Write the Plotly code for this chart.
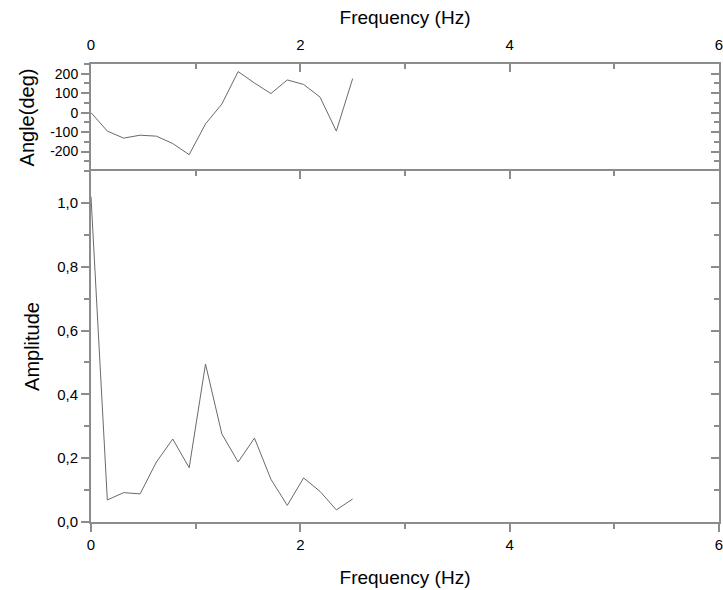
import plotly.graph_objects as go

# FFT result: frequency bins (Hz), amplitude and phase angle (deg)
freq = [0.0, 0.156, 0.312, 0.469, 0.625, 0.781, 0.938, 1.094, 1.25,
        1.406, 1.562, 1.719, 1.875, 2.031, 2.188, 2.344, 2.5]
amplitude = [1.02, 0.069, 0.092, 0.088, 0.188, 0.26, 0.17, 0.495, 0.276,
             0.188, 0.263, 0.134, 0.052, 0.138, 0.096, 0.038, 0.072]
angle = [0, -95, -131, -116, -121, -159, -216, -58, 44,
         211, 152, 98, 168, 145, 80, -95, 175]

angle_tick_vals = [-200, -100, 0, 100, 200]
angle_tick_text = ["-200", "-100", "0", "100", "200"]

FONT = "Liberation Sans, Arial, sans-serif"
AXIS_COLOR = "#8c8c8c"
LINE_COLOR = "#6a6a6a"
SPLIT = 0.7664

fig = go.Figure()
fig.add_trace(go.Scatter(x=freq, y=amplitude, mode="lines",
                         line=dict(color=LINE_COLOR, width=1),
                         xaxis="x", yaxis="y", showlegend=False))
fig.add_trace(go.Scatter(x=freq, y=angle, mode="lines",
                         line=dict(color=LINE_COLOR, width=1),
                         xaxis="x2", yaxis="y2", showlegend=False))
# empty traces so the mirror axes (inside ticks) get drawn
fig.add_trace(go.Scatter(x=[], y=[], xaxis="x3", yaxis="y3", showlegend=False))
fig.add_trace(go.Scatter(x=[], y=[], xaxis="x2", yaxis="y4", showlegend=False))

common = dict(showline=True, linecolor=AXIS_COLOR, linewidth=2,
              tickcolor=AXIS_COLOR, tickwidth=2, showgrid=False, zeroline=False,
              ticklabeloverflow="allow", automargin=False,
              tickfont=dict(family=FONT, size=15, color="#000"))

fig.update_layout(
    width=723, height=590,
    margin=dict(l=91, r=4, t=64, b=68, autoexpand=False),
    paper_bgcolor="white", plot_bgcolor="white",
    separators=", ",
    font=dict(family=FONT, color="#000"),
    xaxis=dict(**common, domain=[0, 1], anchor="y", range=[0, 6],
               dtick=2, tick0=0, ticks="outside", ticklen=8,
               minor=dict(dtick=1, tick0=0, ticks="outside", ticklen=5,
                          tickcolor=AXIS_COLOR, tickwidth=2),
               title=dict(text="Frequency (Hz)", font=dict(family=FONT, size=19),
                          standoff=19)),
    xaxis3=dict(**common, overlaying="x", side="top", anchor="y", range=[0, 6],
                dtick=2, tick0=0, ticks="inside", ticklen=8,
                showticklabels=False,
                minor=dict(dtick=1, tick0=0, ticks="inside", ticklen=5,
                           tickcolor=AXIS_COLOR, tickwidth=2)),
    yaxis=dict(**common, domain=[0, SPLIT], anchor="x", range=[0, 1.1],
               dtick=0.2, tick0=0, tickformat=".1f", ticks="outside", ticklen=8,
               minor=dict(dtick=0.1, tick0=0, ticks="outside", ticklen=5,
                          tickcolor=AXIS_COLOR, tickwidth=2),
               title=dict(text="Amplitude", font=dict(family=FONT, size=20),
                          standoff=12)),
    yaxis3=dict(**common, overlaying="y", side="right", anchor="x", range=[0, 1.1],
                dtick=0.2, tick0=0, ticks="inside", ticklen=8,
                showticklabels=False,
                minor=dict(dtick=0.1, tick0=0, ticks="inside", ticklen=5,
                           tickcolor=AXIS_COLOR, tickwidth=2)),
    xaxis2=dict(**common, domain=[0, 1], anchor="y2", side="top", range=[0, 6],
                dtick=2, tick0=0, ticks="inside", ticklen=8,
                ticklabelstandoff=6,
                minor=dict(dtick=1, tick0=0, ticks="inside", ticklen=5,
                           tickcolor=AXIS_COLOR, tickwidth=2),
                title=dict(text="Frequency (Hz)", font=dict(family=FONT, size=19),
                           standoff=6)),
    yaxis2=dict(**common, domain=[SPLIT, 1], anchor="x2", range=[-300, 250],
                tickvals=angle_tick_vals, ticktext=angle_tick_text,
                ticks="outside", ticklen=8,
                minor=dict(dtick=50, tick0=0, ticks="outside", ticklen=5,
                           tickcolor=AXIS_COLOR, tickwidth=2),
                title=dict(text="Angle(deg)", font=dict(family=FONT, size=20),
                           standoff=10)),
    yaxis4=dict(**common, overlaying="y2", side="right", anchor="x2",
                range=[-300, 250], tickvals=angle_tick_vals,
                ticks="inside", ticklen=8, showticklabels=False,
                minor=dict(dtick=50, tick0=0, ticks="inside", ticklen=5,
                           tickcolor=AXIS_COLOR, tickwidth=2)),
)

fig.update_layout(yaxis2_tickfont_size=14)

fig.write_html("out.html")
